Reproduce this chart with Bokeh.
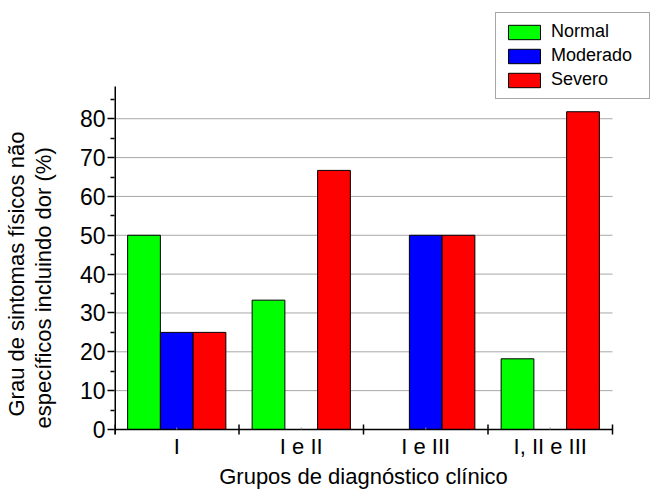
import numpy as np
from bokeh.plotting import figure
from bokeh.models import (Range1d, FixedTicker, Legend, LegendItem, Title)
from bokeh.core.properties import value
from bokeh.embed import file_html
from bokeh.resources import INLINE

groups = ["I", "I e II", "I e III", "I, II e III"]
normal = [50.0, 33.3, 0.0, 18.2]
moderado = [25.0, 0.0, 50.0, 0.0]
severo = [25.0, 66.7, 50.0, 81.8]
series_names = ["Normal", "Moderado", "Severo"]
colors = ["#00ff00", "#0000ff", "#ff0000"]
y_ticks = [0, 10, 20, 30, 40, 50, 60, 70, 80]
y_minor = [5, 15, 25, 35, 45, 55, 65, 75, 85]
y_axis_top = 88.3
x_title = "Grupos de diagnóstico clínico"
y_title_1 = "Grau de sintomas físicos não"
y_title_2 = "específicos incluindo dor (%)"

FONT = "Liberation Sans"
bar_w = 0.263

W, H = 650, 495
FRAME_L = 114
FRAME_T = 12
FRAME_B = 463
AXIS_Y_FIG = 429             # pixel row of y = 0
PPU = 343.0 / y_axis_top     # pixels per y unit
DATA_PX_W = 498.0            # pixels spanned by the 4 groups

n = len(groups)
x_end = n * (W - FRAME_L) / DATA_PX_W
y_start = -(FRAME_B - AXIS_Y_FIG) / PPU
y_end = (AXIS_Y_FIG - FRAME_T) / PPU

def px(v):  # screen pixels -> y data units
    return v / PPU

p = figure(width=W, height=H, output_backend="svg", toolbar_location=None,
           x_range=Range1d(0, x_end), y_range=Range1d(y_start, y_end),
           min_border_left=FRAME_L, min_border_right=0,
           min_border_top=FRAME_T, min_border_bottom=H - FRAME_B)
p.outline_line_color = None
p.background_fill_color = "white"
p.border_fill_color = "white"
p.xgrid.grid_line_color = None
p.ygrid.grid_line_color = None
p.xaxis.visible = False

centers = np.arange(n) + 0.5

gy = y_ticks[1:]
p.segment(x0=[0] * len(gy), x1=[n] * len(gy), y0=gy, y1=gy,
          line_color="#a8a8a8", line_width=1)

renderers = []
for i, (vals, c) in enumerate(zip([normal, moderado, severo], colors)):
    r = p.vbar(x=centers + (i - 1) * bar_w, top=vals, bottom=0, width=bar_w,
               fill_color=c, line_color="black", line_width=1)
    renderers.append(r)

bounds = list(range(n + 1))
p.segment(x0=[0], x1=[n], y0=[0], y1=[0], line_color="black", line_width=1.5)
p.segment(x0=bounds, x1=bounds, y0=[px(-5)] * len(bounds), y1=[px(5)] * len(bounds),
          line_color="black", line_width=1.5)
p.segment(x0=centers, x1=centers, y0=[0] * n, y1=[px(2)] * n,
          line_color="#888888", line_width=1)
p.segment(x0=[0], x1=[0], y0=[px(-5)], y1=[y_axis_top], line_color="black", line_width=3)

p.text(x=centers, y=[px(-17)] * n, text=groups, text_align="center",
       text_baseline="alphabetic", text_font=value(FONT), text_font_size="22px",
       text_color="black")

title_px = 13.117 * 22
tx = Title(text=x_title, align="left", offset=(DATA_PX_W - title_px) / 2,
           vertical_align="top", standoff=0,
           text_font=FONT, text_font_size="22px", text_font_style="normal",
           text_color="black")
p.add_layout(tx, "below")

ya = p.yaxis[0]
ya.axis_line_color = None
ya.ticker = FixedTicker(ticks=y_ticks, minor_ticks=y_minor)
ya.major_tick_in = 0
ya.major_tick_out = 7
ya.minor_tick_in = 0
ya.minor_tick_out = 4
ya.major_tick_line_width = 1.5
ya.minor_tick_line_width = 1.5
ya.major_label_text_font = FONT
ya.major_label_text_font_size = "23px"
ya.major_label_text_color = "black"
ya.major_label_standoff = 2

# small gap between the tick labels and the two-line y title
gap = Title(text=" ", text_font_size="1px", standoff=16)
p.add_layout(gap, "left")
t2 = Title(text=y_title_2, align="left", offset=35, vertical_align="top",
           text_font=FONT, text_font_size="22px", text_font_style="normal",
           text_color="black", standoff=0)
p.add_layout(t2, "left")
t1 = Title(text=y_title_1, align="left", offset=47, vertical_align="top",
           text_font=FONT, text_font_size="22px", text_font_style="normal",
           text_color="black", standoff=0)
p.add_layout(t1, "left")

legend = Legend(items=[LegendItem(label=s, renderers=[r]) for s, r in zip(series_names, renderers)],
                location="top_right")
legend.label_text_font = FONT
legend.label_text_font_size = "18px"
legend.label_text_color = "black"
legend.label_width = 90
legend.glyph_width = 40
legend.glyph_height = 18
legend.label_height = 18
legend.label_standoff = 7
legend.spacing = 3
legend.padding = 8
legend.margin = 0
legend.border_line_color = "#505050"
legend.border_line_width = 1
legend.background_fill_alpha = 1
p.add_layout(legend, "center")

open("out.html", "w").write(file_html(p, INLINE))
